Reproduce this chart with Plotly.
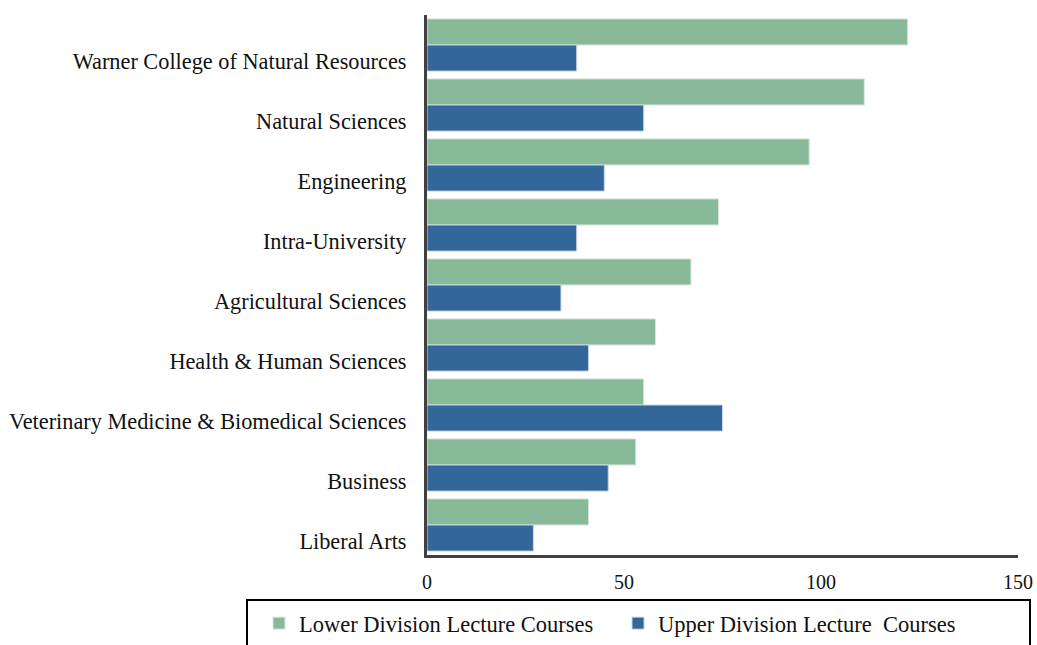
import plotly.graph_objects as go

categories = [
    "Warner College of Natural Resources",
    "Natural Sciences",
    "Engineering",
    "Intra-University",
    "Agricultural Sciences",
    "Health & Human Sciences",
    "Veterinary Medicine & Biomedical Sciences",
    "Business",
    "Liberal Arts",
]
lower_division = [122, 111, 97, 74, 67, 58, 55, 53, 41]
upper_division = [38, 55, 45, 38, 34, 41, 75, 46, 27]
x_ticks = [0, 50, 100, 150]

FONT = "Liberation Serif"
W, H = 1037, 645
L, T = 427, 15
R = W - 1018
B = H - 555
pw = W - L - R
ph = H - T - B

fig = go.Figure()
fig.add_trace(go.Bar(
    y=categories, x=lower_division, orientation="h",
    name="Lower Division Lecture Courses",
    marker=dict(color="#88B999", line=dict(color="#D8E8DD", width=1)),
))
fig.add_trace(go.Bar(
    y=categories, x=upper_division, orientation="h",
    name="Upper Division Lecture  Courses",
    marker=dict(color="#336699", line=dict(color="#C8D6E6", width=1)),
))

def px_x(p):
    return (p - L) / pw

def px_y(p):
    return (H - B - p) / ph

fig.update_layout(
    width=W, height=H,
    margin=dict(l=L, r=R, t=T, b=B, autoexpand=False),
    paper_bgcolor="white", plot_bgcolor="white",
    barmode="group", bargap=0.13, bargroupgap=0,
    font=dict(family=FONT, size=22, color="#111111"),
    xaxis=dict(
        range=[0, 150], tickvals=x_ticks, showgrid=False, zeroline=False,
        showline=True, linecolor="#404040", linewidth=3, automargin=False,
        ticks="", ticklabelstandoff=7, tickfont=dict(size=20),
        ticklabeloverflow="allow",
    ),
    yaxis=dict(
        autorange="reversed", showgrid=False, zeroline=False,
        showline=True, linecolor="#404040", linewidth=3, automargin=False,
        ticks="", ticklabelstandoff=13, ticklabelshift=-16,
        tickfont=dict(size=22.3),
    ),
    showlegend=True,
    legend=dict(
        orientation="h", x=px_x(259), y=px_y(602), xanchor="left", yanchor="top",
        font=dict(size=22.5), bgcolor="rgba(0,0,0,0)", borderwidth=0,
        entrywidth=314, traceorder="normal",
    ),
    shapes=[dict(
        type="rect", xref="paper", yref="paper",
        x0=px_x(247), x1=px_x(1030), y0=px_y(600), y1=px_y(660),
        line=dict(color="black", width=2), fillcolor="rgba(0,0,0,0)",
    )],
)

fig.write_html(
    "out.html",
    config={"displayModeBar": False},
    post_script="document.body.style.margin='0';document.body.style.overflow='hidden';",
)
